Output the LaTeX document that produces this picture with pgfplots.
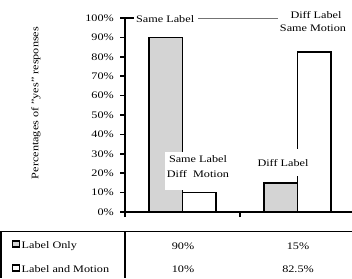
\documentclass[border=0pt]{standalone}
\usepackage{fontspec}
\setmainfont{Liberation Serif}
\usepackage{graphicx}
\usepackage{pgfplots}
\pgfplotsset{compat=1.18}
\newcommand\W[1]{\scalebox{1.22}[1]{#1}}
\definecolor{barg}{RGB}{212,212,212}
\begin{document}
\fontsize{10}{12}\selectfont
\begin{tikzpicture}[x=1pt,y=1pt,font=\fontsize{10}{12}\selectfont]
\useasboundingbox (0,0) rectangle (352,278);
\begin{axis}[
  at={(125pt,66pt)}, anchor=south west,
  scale only axis, width=230pt, height=194pt,
  xmin=0, xmax=2, ymin=0, ymax=100,
  axis x line*=bottom, axis y line*=left,
  axis line style={-, line width=1.8pt},
  ytick={0,10,...,100}, xtick={0,1,2}, xticklabels={},
  tick align=outside, major tick length=5pt,
  tick style={black, line width=1.5pt},
  /pgf/number format/assume math mode=true,
  yticklabel={\W{\pgfmathprintnumber{\tick}\%}},
  yticklabel style={anchor=east, inner sep=0pt, xshift=-6pt},
  ybar=0pt, bar width=33.5pt, clip=false,
]
\addplot[fill=barg, draw=black, line width=1.6pt] coordinates {(0.5,90) (1.5,15)};
\addplot[fill=white, draw=black, line width=1.6pt] coordinates {(0.5,10) (1.5,82.5)};
\end{axis}
% y label
\node[rotate=90, inner sep=0] at (36,175) {\W{Percentages of "yes" responses}};
% annotations
\draw[line width=1.5pt] (125,260) -- (134,260);
\node[anchor=west, inner sep=0] at (136,259) {\W{Same Label}};
\draw[black!55, line width=1pt] (198,259) -- (278,259);
\node[inner sep=0] at (316,263) {\W{Diff Label}};
\node[inner sep=0] at (313,250) {\W{Same Motion}};
\node[fill=white, minimum width=68pt, minimum height=38pt, inner sep=0] at (199,107) {};
\node[inner sep=0] at (198,119) {\W{Same Label}};
\node[inner sep=0] at (198,104) {\W{Diff\ \ Motion}};
\node[fill=white, minimum width=54pt, minimum height=27pt, inner sep=0] at (283,115.5) {};
\node[inner sep=0] at (283,115) {\W{Diff Label}};
% table
\draw[line width=1.6pt] (0,46.5) -- (352,46.5);
\draw[line width=1.6pt] (0.8,46.5) -- (0.8,0);
\draw[line width=1.6pt] (125,46.5) -- (125,0);
\draw[line width=1.5pt, fill=barg] (12.5,31) rectangle (19.5,37);
\draw[line width=1.5pt, fill=white] (12.5,7) rectangle (19.5,13);
\node[anchor=west, inner sep=0] at (21.5,32) {\W{Label Only}};
\node[anchor=west, inner sep=0] at (21.5,8.5) {\W{Label and Motion}};
\node[inner sep=0] at (183,32) {\W{90\%}};
\node[inner sep=0] at (298,32) {\W{15\%}};
\node[inner sep=0] at (183,8.5) {\W{10\%}};
\node[inner sep=0] at (298,8.5) {\W{82.5\%}};
\end{tikzpicture}
\end{document}
